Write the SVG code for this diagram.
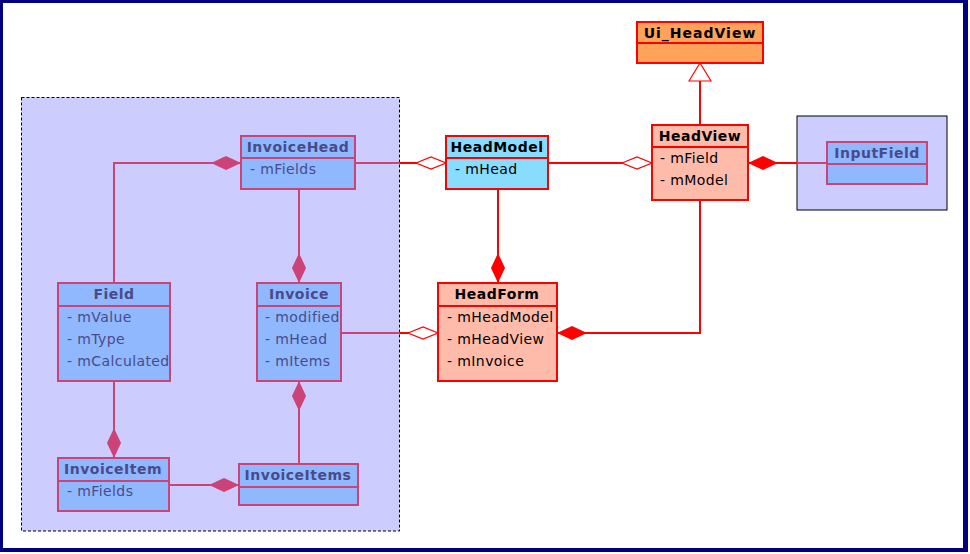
<svg xmlns="http://www.w3.org/2000/svg" width="970" height="554" viewBox="0 0 970 554">
<style>
text{font-family:"DejaVu Sans","Verdana",sans-serif;font-size:14px;}
.title{font-weight:bold;text-anchor:middle;letter-spacing:0.5px;}
.attr{letter-spacing:0.4px;}
.in rect,.in line{fill:#8fb8ff;stroke:#cc4477;stroke-width:2;}
.in text{fill:#4a4a8a;}
.out rect,.out line{stroke:#ff0000;stroke-width:2;}
.out text{fill:#000;}
.pk{fill:#ccccff;stroke:#000;stroke-width:1;}
.cp{fill:none;stroke:#cc4477;stroke-width:2;}
.cr{fill:none;stroke:#ff0000;stroke-width:2;}
</style>
<defs>
<marker id="dPink" viewBox="0 0 30 14" refX="30" refY="7" markerWidth="30" markerHeight="14" markerUnits="userSpaceOnUse" orient="auto">
<path d="M0,7 L15,0 L30,7 L15,14 Z" fill="#cc4477"/>
</marker>
<marker id="dRed" viewBox="0 0 30 14" refX="30" refY="7" markerWidth="30" markerHeight="14" markerUnits="userSpaceOnUse" orient="auto">
<path d="M0,7 L15,0 L30,7 L15,14 Z" fill="#ff0000"/>
</marker>
<marker id="hRed" viewBox="-1 -1 32 14" refX="30" refY="6" markerWidth="32" markerHeight="14" markerUnits="userSpaceOnUse" orient="auto">
<path d="M0,6 L15,0 L30,6 L15,12 Z" fill="#fff" stroke="#ff0000" stroke-width="1.2"/>
</marker>
<marker id="tri" viewBox="-1 -1 20 24" refX="18" refY="11" markerWidth="20" markerHeight="24" markerUnits="userSpaceOnUse" orient="auto">
<path d="M0,0 L18,11 L0,22 Z" fill="#fff" stroke="#ff0000" stroke-width="1.2"/>
</marker>
</defs>

<rect x="0" y="0" width="968" height="552" fill="#000080"/>
<rect x="3" y="3" width="960" height="545" fill="#fff"/>

<g id="pkg-left"><rect class="pk" x="21.5" y="97.5" width="378" height="433.5" stroke-dasharray="3,2"/></g>
<g id="pkg-right"><rect class="pk" x="797" y="116" width="150" height="94"/></g>

<g id="connectors">
<path class="cp" d="M114,283 V163 H241" marker-end="url(#dPink)"/>
<path class="cp" d="M299,189 V283" marker-end="url(#dPink)"/>
<path class="cp" d="M299,464 V381" marker-end="url(#dPink)"/>
<path class="cp" d="M114,381 V458" marker-end="url(#dPink)"/>
<path class="cp" d="M169,485 H239" marker-end="url(#dPink)"/>
<path class="cp" d="M355,163 H400"/>
<path class="cp" d="M341,333 H400"/>
<path class="cp" d="M827,163 H797"/>
<path class="cr" d="M400,163 H446" marker-end="url(#hRed)"/>
<path class="cr" d="M548,163 H652" marker-end="url(#hRed)"/>
<path class="cr" d="M797,163 H748" marker-end="url(#dRed)"/>
<path class="cr" d="M498,189 V283" marker-end="url(#dRed)"/>
<path class="cr" d="M700,200 V333 H557" marker-end="url(#dRed)"/>
<path class="cr" d="M400,333 H438" marker-end="url(#hRed)"/>
<path class="cr" d="M700,125 V63" stroke-width="1.5" marker-end="url(#tri)"/>
</g>

<g id="Ui_HeadView" class="out">
<rect x="637" y="22" width="126" height="41" fill="#ffa35a"/>
<line x1="637" y1="43" x2="763" y2="43"/>
<text class="title" x="700" y="38" style="letter-spacing:1px">Ui_HeadView</text>
</g>

<g id="HeadView" class="out">
<rect x="652" y="125" width="96" height="75" fill="#ffbbaa"/>
<line x1="652" y1="147" x2="748" y2="147"/>
<text class="title" x="700" y="141">HeadView</text>
<text class="attr" x="660" y="163">- mField</text>
<text class="attr" x="660" y="185">- mModel</text>
</g>

<g id="HeadModel" class="out">
<rect x="446" y="136" width="102" height="53" fill="#88ddff"/>
<line x1="446" y1="158" x2="548" y2="158"/>
<text class="title" x="497" y="152">HeadModel</text>
<text class="attr" x="455" y="174">- mHead</text>
</g>

<g id="HeadForm" class="out">
<rect x="438" y="283" width="119" height="98" fill="#ffbbaa"/>
<line x1="438" y1="306" x2="557" y2="306"/>
<text class="title" x="497" y="299">HeadForm</text>
<text class="attr" x="447" y="322">- mHeadModel</text>
<text class="attr" x="447" y="344">- mHeadView</text>
<text class="attr" x="447" y="366">- mInvoice</text>
</g>

<g id="InputField" class="in">
<rect x="827" y="142" width="100" height="42"/>
<line x1="827" y1="164" x2="927" y2="164"/>
<text class="title" x="877" y="158">InputField</text>
</g>

<g id="InvoiceHead" class="in">
<rect x="241" y="136" width="114" height="53"/>
<line x1="241" y1="158" x2="355" y2="158"/>
<text class="title" x="298" y="152">InvoiceHead</text>
<text class="attr" x="250" y="174">- mFields</text>
</g>

<g id="Field" class="in">
<rect x="58" y="283" width="112" height="98"/>
<line x1="58" y1="306" x2="170" y2="306"/>
<text class="title" x="114" y="299">Field</text>
<text class="attr" x="67" y="322">- mValue</text>
<text class="attr" x="67" y="344">- mType</text>
<text class="attr" x="67" y="366">- mCalculated</text>
</g>

<g id="Invoice" class="in">
<rect x="257" y="283" width="84" height="98"/>
<line x1="257" y1="306" x2="341" y2="306"/>
<text class="title" x="299" y="299">Invoice</text>
<text class="attr" x="265" y="322">- modified</text>
<text class="attr" x="265" y="344">- mHead</text>
<text class="attr" x="265" y="366">- mItems</text>
</g>

<g id="InvoiceItem" class="in">
<rect x="58" y="458" width="111" height="53"/>
<line x1="58" y1="481" x2="169" y2="481"/>
<text class="title" x="113" y="474">InvoiceItem</text>
<text class="attr" x="67" y="496">- mFields</text>
</g>

<g id="InvoiceItems" class="in">
<rect x="239" y="464" width="119" height="41"/>
<line x1="239" y1="487" x2="358" y2="487"/>
<text class="title" x="298" y="480">InvoiceItems</text>
</g>
</svg>
